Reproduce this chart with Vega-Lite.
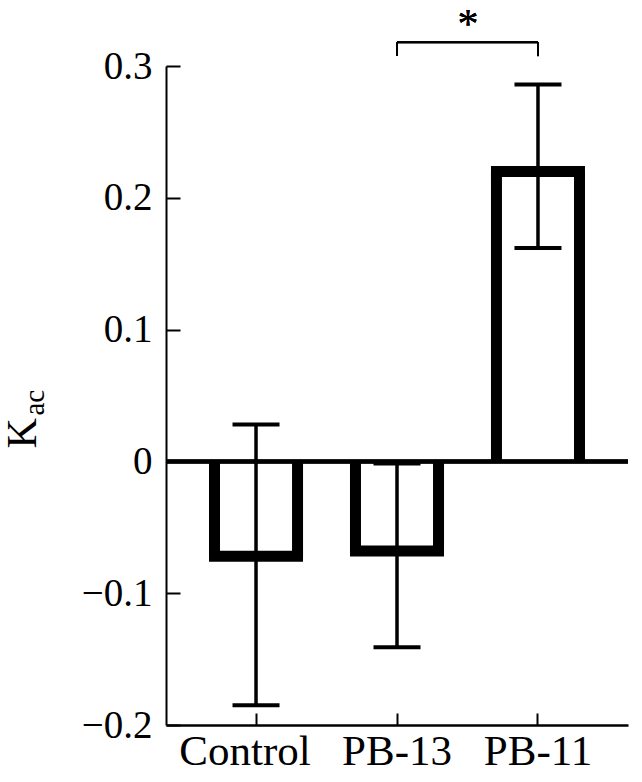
{
  "$schema": "https://vega.github.io/schema/vega-lite/v6.json",
  "width": 462,
  "height": 659,
  "autosize": {"type": "none"},
  "padding": {"left": 166, "top": 66, "right": 14, "bottom": 57},
  "background": "white",
  "config": {
    "view": {"stroke": null},
    "font": "Liberation Serif",
    "axis": {"labelFont": "Liberation Serif", "titleFont": "Liberation Serif", "labelColor": "black", "titleColor": "black", "domainColor": "black", "tickColor": "black", "grid": false}
  },
  "data": {"values": [
    {"group": "Control", "mean": -0.072, "lower": -0.185, "upper": 0.028},
    {"group": "PB-13", "mean": -0.068, "lower": -0.141, "upper": -0.0015},
    {"group": "PB-11", "mean": 0.22, "lower": 0.162, "upper": 0.286}
  ]},
  "resolve": {"axis": {"y": "independent"}},
  "layer": [
    {
      "mark": {"type": "rule", "color": "black", "strokeWidth": 11, "strokeCap": "butt"},
      "encoding": {
        "x": {"field": "group", "type": "nominal", "bandPosition": 0, "sort": ["Control", "PB-13", "PB-11"],
          "scale": {"paddingInner": 0.411, "paddingOuter": 0.344},
          "axis": {"title": null, "labelAngle": 0, "labelFontSize": 43, "labelPadding": 17, "tickSize": -12, "tickWidth": 2, "domainWidth": 2.5,
            "labelOffset": {"condition": {"test": "datum.value === 'Control'", "value": -11}, "value": 0}}},
        "y": {"field": "mean", "type": "quantitative",
          "scale": {"domain": [-0.2, 0.3], "nice": false, "zero": false},
          "axis": {"values": [-0.2, -0.1, 0, 0.1, 0.2, 0.3], "format": ".1~f", "labelFontSize": 39, "labelPadding": 28, "tickSize": -14, "tickWidth": 2, "domainWidth": 2,
            "title": "K", "titleFontSize": 42, "titleFontWeight": "normal", "titleAngle": 270, "titleAlign": "left", "titleBaseline": "alphabetic", "titleX": -131, "titleY": 382}},
        "y2": {"datum": 0}
      }
    },
    {
      "mark": {"type": "rule", "color": "black", "strokeWidth": 11, "strokeCap": "butt"},
      "encoding": {
        "x": {"field": "group", "type": "nominal", "bandPosition": 1, "sort": ["Control", "PB-13", "PB-11"]},
        "y": {"field": "mean", "type": "quantitative", "axis": null},
        "y2": {"datum": 0}
      }
    },
    {
      "mark": {"type": "tick", "color": "black", "size": 94, "thickness": 11, "opacity": 1},
      "encoding": {
        "x": {"field": "group", "type": "nominal", "sort": ["Control", "PB-13", "PB-11"]},
        "y": {"field": "mean", "type": "quantitative", "axis": null}
      }
    },
    {
      "mark": {"type": "rule", "color": "black", "strokeWidth": 3.5},
      "encoding": {
        "x": {"field": "group", "type": "nominal", "sort": ["Control", "PB-13", "PB-11"]},
        "y": {"field": "lower", "type": "quantitative", "axis": null},
        "y2": {"field": "upper"}
      }
    },
    {
      "mark": {"type": "tick", "color": "black", "size": 47, "thickness": 4, "opacity": 1},
      "encoding": {
        "x": {"field": "group", "type": "nominal", "sort": ["Control", "PB-13", "PB-11"]},
        "y": {"field": "lower", "type": "quantitative", "axis": null}
      }
    },
    {
      "mark": {"type": "tick", "color": "black", "size": 47, "thickness": 4, "opacity": 1},
      "encoding": {
        "x": {"field": "group", "type": "nominal", "sort": ["Control", "PB-13", "PB-11"]},
        "y": {"field": "upper", "type": "quantitative", "axis": null}
      }
    },
    {
      "mark": {"type": "rule", "color": "black", "strokeWidth": 4},
      "encoding": {
        "y": {"datum": 0, "type": "quantitative",
          "axis": {"orient": "left", "domain": false, "ticks": false, "labels": false, "grid": false,
            "title": "ac", "titleFontSize": 29, "titleFontWeight": "normal", "titleAngle": 270, "titleAlign": "left", "titleBaseline": "alphabetic", "titleX": -123, "titleY": 349}}
      }
    },
    {
      "mark": {"type": "rule", "color": "black", "strokeWidth": 2},
      "encoding": {
        "x": {"datum": "PB-13"},
        "x2": {"datum": "PB-11"},
        "y": {"datum": 0.318, "axis": null}
      }
    },
    {
      "mark": {"type": "rule", "color": "black", "strokeWidth": 2},
      "encoding": {
        "x": {"datum": "PB-13"},
        "y": {"datum": 0.318, "axis": null},
        "y2": {"datum": 0.3075}
      }
    },
    {
      "mark": {"type": "rule", "color": "black", "strokeWidth": 2},
      "encoding": {
        "x": {"datum": "PB-11"},
        "y": {"datum": 0.318, "axis": null},
        "y2": {"datum": 0.3075}
      }
    },
    {
      "mark": {"type": "text", "text": "*", "fontSize": 42, "font": "Liberation Serif", "color": "black", "align": "center", "baseline": "alphabetic", "dx": 71, "dy": -4},
      "encoding": {
        "x": {"datum": "PB-13"},
        "y": {"datum": 0.318, "axis": null}
      }
    }
  ]
}
